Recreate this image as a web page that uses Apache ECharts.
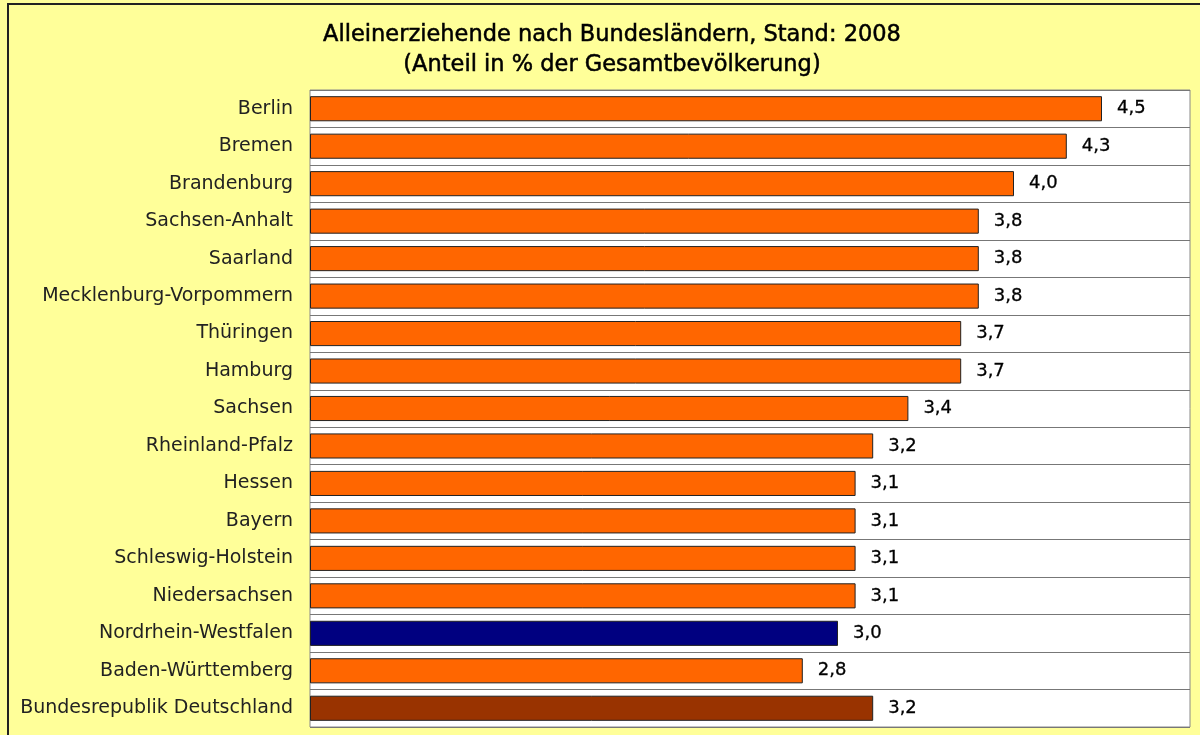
<!DOCTYPE html>
<html>
<head>
<meta charset="utf-8">
<script src="https://cdn.jsdelivr.net/npm/echarts@6/dist/echarts.min.js"></script>
<style>
	html, body { margin: 0; padding: 0; background: #ffff99; }
	#echart { width: 1200px; height: 735px; }
</style>
</head>
<body>
<div id="echart"></div>
<script>
	// Bundesländer, von oben nach unten
	var categories = [
		'Berlin', 'Bremen', 'Brandenburg', 'Sachsen-Anhalt', 'Saarland',
		'Mecklenburg-Vorpommern', 'Thüringen', 'Hamburg', 'Sachsen',
		'Rheinland-Pfalz', 'Hessen', 'Bayern', 'Schleswig-Holstein',
		'Niedersachsen', 'Nordrhein-Westfalen', 'Baden-Württemberg',
		'Bundesrepublik Deutschland'
	];
	var values = [4.5, 4.3, 4.0, 3.8, 3.8, 3.8, 3.7, 3.7, 3.4, 3.2, 3.1, 3.1, 3.1, 3.1, 3.0, 2.8, 3.2];

	var myChart = echarts.init(document.getElementById('echart'));

	var option = {
		backgroundColor: '#ffff99',
		title: {
			text: 'Alleinerziehende nach Bundesländern, Stand: 2008\n(Anteil in % der Gesamtbevölkerung)',
			left: 607,
			textAlign: 'center',
			top: 15,
			textStyle: {
				fontFamily: 'DejaVu Sans',
				fontSize: 22.5,
				fontWeight: 'normal',
				color: '#000',
				textBorderColor: '#000',
				textBorderWidth: 0.5,
				lineHeight: 30
			}
		},
		graphic: [{
			type: 'rect',
			shape: { x: 8, y: 4, width: 1220, height: 760 },
			style: { fill: 'none', stroke: '#222', lineWidth: 2 },
			silent: true
		}],
		grid: {
			left: 310,
			right: 10,
			top: 90,
			bottom: 8,
			show: true,
			backgroundColor: '#fff',
			borderColor: '#888',
			borderWidth: 1
		},
		xAxis: {
			type: 'value',
			min: 0,
			max: 5,
			show: false
		},
		yAxis: {
			type: 'category',
			data: categories,
			inverse: true,
			axisLine: { show: false },
			axisTick: { show: false },
			axisLabel: {
				margin: 17,
				fontFamily: 'DejaVu Sans',
				fontSize: 19,
				color: '#222'
			},
			splitLine: { show: true, lineStyle: { color: '#777', width: 1 } }
		},
		series: [{
			type: 'bar',
			data: values,
			barCategoryGap: '33%',
			itemStyle: {
				color: function (p) {
					if (p.name === 'Nordrhein-Westfalen') return '#000080';
					if (p.name === 'Bundesrepublik Deutschland') return '#993300';
					return '#ff6600';
				},
				borderColor: '#222',
				borderWidth: 1
			},
			label: {
				show: true,
				position: 'right',
				distance: 15,
				fontFamily: 'DejaVu Sans',
				fontSize: 18,
				color: '#000',
				textBorderColor: '#000',
				textBorderWidth: 0.3,
				formatter: function (p) {
					return p.value.toFixed(1).replace('.', ',');
				}
			},
			animation: false
		}]
	};

	myChart.setOption(option);
</script>
</body>
</html>
